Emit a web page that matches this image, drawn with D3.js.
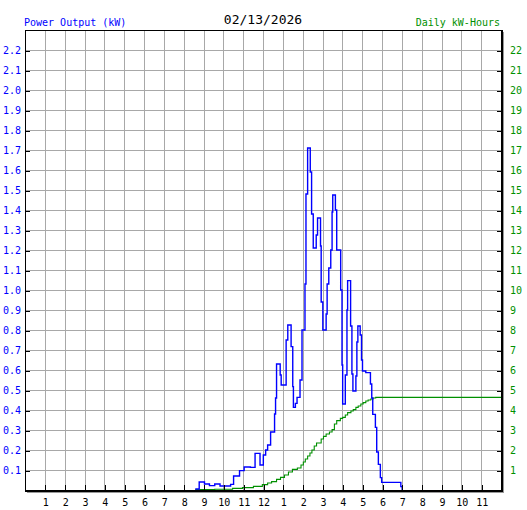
<!DOCTYPE html>
<html><head><meta charset="utf-8">
<script src="https://cdn.jsdelivr.net/npm/d3@7"></script>
<style>
body{margin:0;background:#fff}
text{font-family:"DejaVu Sans Mono",monospace}
</style>
</head><body>
<svg id="chart" width="527" height="510"></svg>
<script>
// ---- data ----
const title = "02/13/2026";
const leftTitle = "Power Output (kW)";
const rightTitle = "Daily kW-Hours";
const hourTicks = d3.range(1, 24);
const hourLabels = ["1","2","3","4","5","6","7","8","9","10","11","12","1","2","3","4","5","6","7","8","9","10","11"];
const powerTicks = d3.range(1, 23).map(i => i / 10);
const energyTicks = d3.range(1, 23);

// minutes after midnight, step-after
const powerMinutes = [515,527,543,558,574,590,622,631,649,663,682,696,711,721,728,734,743,755,758,761,772,775,790,795,805,810,812,818,823,832,838,847,850,855,863,867,872,881,885,894,896,901,911,914,919,925,929,931,939,943,955,959,961,969,974,976,985,989,992,1001,1004,1007,1014,1018,1021,1031,1045,1049,1052,1060,1064,1069,1075,1079,1137,1141];
const powerKW = [0.005,0.04,0.03,0.022,0.03,0.02,0.028,0.07,0.097,0.115,0.113,0.183,0.125,0.175,0.2,0.225,0.29,0.38,0.46,0.63,0.575,0.525,0.75,0.825,0.717,0.517,0.413,0.433,0.463,0.55,0.8,1.03,1.48,1.71,1.59,1.38,1.21,1.275,1.36,1.22,0.94,0.80,0.88,1.03,1.11,1.20,1.39,1.475,1.40,1.20,1.0,0.625,0.43,0.575,0.9,1.047,0.82,0.58,0.495,0.57,0.74,0.82,0.775,0.65,0.595,0.587,0.53,0.46,0.378,0.313,0.19,0.128,0.062,0.038,0.017,0];

const energyMinutes = [515,574,628,658,691,718,734,746,761,773,785,797,809,824,835,842,848,855,862,868,875,882,896,903,911,921,929,936,943,954,961,969,976,986,993,1001,1008,1016,1023,1031,1038,1046,1053,1061,1440];
const energyKWh = [0.02,0.04,0.08,0.12,0.18,0.27,0.35,0.42,0.53,0.63,0.75,0.9,1.03,1.1,1.25,1.4,1.55,1.7,1.85,2.0,2.2,2.35,2.55,2.68,2.8,2.9,3.02,3.3,3.47,3.58,3.63,3.75,3.87,3.95,4.02,4.13,4.2,4.3,4.37,4.45,4.5,4.55,4.6,4.63,4.63];

// ---- layout ----
const L = 25, R = 501, T = 30, B = 490;
const blue = "#0000ff", green = "#009000", gridCol = "#a8a8a8";

const svg = d3.select("#chart");
const x = d3.scaleLinear().domain([0, 1440]).range([L, R]);
const yP = d3.scaleLinear().domain([0, 2.3]).range([B, T]);
const yE = d3.scaleLinear().domain([0, 23]).range([B, T]);

// grid
const grid = svg.append("g").attr("shape-rendering", "crispEdges").attr("stroke", gridCol).attr("stroke-width", 1);
grid.selectAll("line.v").data(hourTicks).join("line")
  .attr("x1", d => Math.round(x(d * 60)) + 0.5).attr("x2", d => Math.round(x(d * 60)) + 0.5)
  .attr("y1", T).attr("y2", B);
grid.selectAll("line.h").data(powerTicks).join("line")
  .attr("y1", d => Math.round(yP(d)) + 0.5).attr("y2", d => Math.round(yP(d)) + 0.5)
  .attr("x1", L).attr("x2", R);

// energy line
const eData = energyMinutes.map((m, i) => [m, energyKWh[i]]);
svg.append("path").datum(eData)
  .attr("fill", "none").attr("stroke", green).attr("stroke-width", 1.1)
  .attr("d", d3.line().x(d => x(d[0])).y(d => yE(d[1])).curve(d3.curveStepAfter));

// power line
const pData = powerMinutes.map((m, i) => [m, powerKW[i]]);
svg.append("path").datum(pData)
  .attr("fill", "none").attr("stroke", blue).attr("stroke-width", 1.4)
  .attr("d", d3.line().x(d => x(d[0])).y(d => yP(d[1])).curve(d3.curveStepAfter));

// border with shadow
const bord = svg.append("g").attr("shape-rendering", "crispEdges");
bord.append("rect").attr("x", L + 0.5).attr("y", T + 0.5).attr("width", R - L).attr("height", B - T)
  .attr("fill", "none").attr("stroke", "#000");
bord.append("line").attr("x1", L).attr("x2", R + 2).attr("y1", B + 1.5).attr("y2", B + 1.5).attr("stroke", "#000");
bord.append("line").attr("x1", R + 1.5).attr("x2", R + 1.5).attr("y1", T).attr("y2", B + 2).attr("stroke", "#000");
bord.append("line").attr("x1", L + 2).attr("x2", R + 3).attr("y1", B + 2.5).attr("y2", B + 2.5).attr("stroke", "#999");
bord.append("line").attr("x1", R + 2.5).attr("x2", R + 2.5).attr("y1", T + 2).attr("y2", B + 3).attr("stroke", "#999");

// axes
const ax = d3.axisBottom(x).tickValues(hourTicks.map(h => h * 60))
  .tickFormat((d, i) => hourLabels[i]).tickSizeInner(-5).tickSizeOuter(0).tickPadding(9);
const gx = svg.append("g").attr("transform", `translate(0.5,${B})`).call(ax);
gx.select(".domain").remove();
gx.selectAll("line").attr("stroke", "#000").attr("shape-rendering", "crispEdges");
gx.selectAll("text").attr("fill", "#000").style("font-size", "10px").style("font-family", "DejaVu Sans Mono");

const ayL = d3.axisLeft(yP).tickValues(powerTicks).tickFormat(d3.format(".1f"))
  .tickSizeInner(-5).tickSizeOuter(0).tickPadding(4);
const gl = svg.append("g").attr("transform", `translate(${L},0.5)`).call(ayL);
gl.select(".domain").remove();
gl.selectAll("line").attr("stroke", "#000").attr("shape-rendering", "crispEdges");
gl.selectAll("text").attr("fill", blue).style("font-size", "10px").style("font-family", "DejaVu Sans Mono");

const ayR = d3.axisRight(yE).tickValues(energyTicks).tickFormat(d3.format("d"))
  .tickSizeInner(-5).tickSizeOuter(0).tickPadding(8);
const gr = svg.append("g").attr("transform", `translate(${R + 1},0.5)`).call(ayR);
gr.select(".domain").remove();
gr.selectAll("line").attr("stroke", "#000").attr("shape-rendering", "crispEdges");
gr.selectAll("text").attr("fill", green).style("font-size", "10px").style("font-family", "DejaVu Sans Mono");

// titles
svg.append("text").attr("x", 263).attr("y", 24).attr("text-anchor", "middle")
  .style("font-size", "13px").attr("fill", "#000").text(title);
svg.append("text").attr("x", 24).attr("y", 26)
  .style("font-size", "10px").attr("fill", blue).text(leftTitle);
svg.append("text").attr("x", 500).attr("y", 26).attr("text-anchor", "end")
  .style("font-size", "10px").attr("fill", green).text(rightTitle);
</script>
</body></html>
